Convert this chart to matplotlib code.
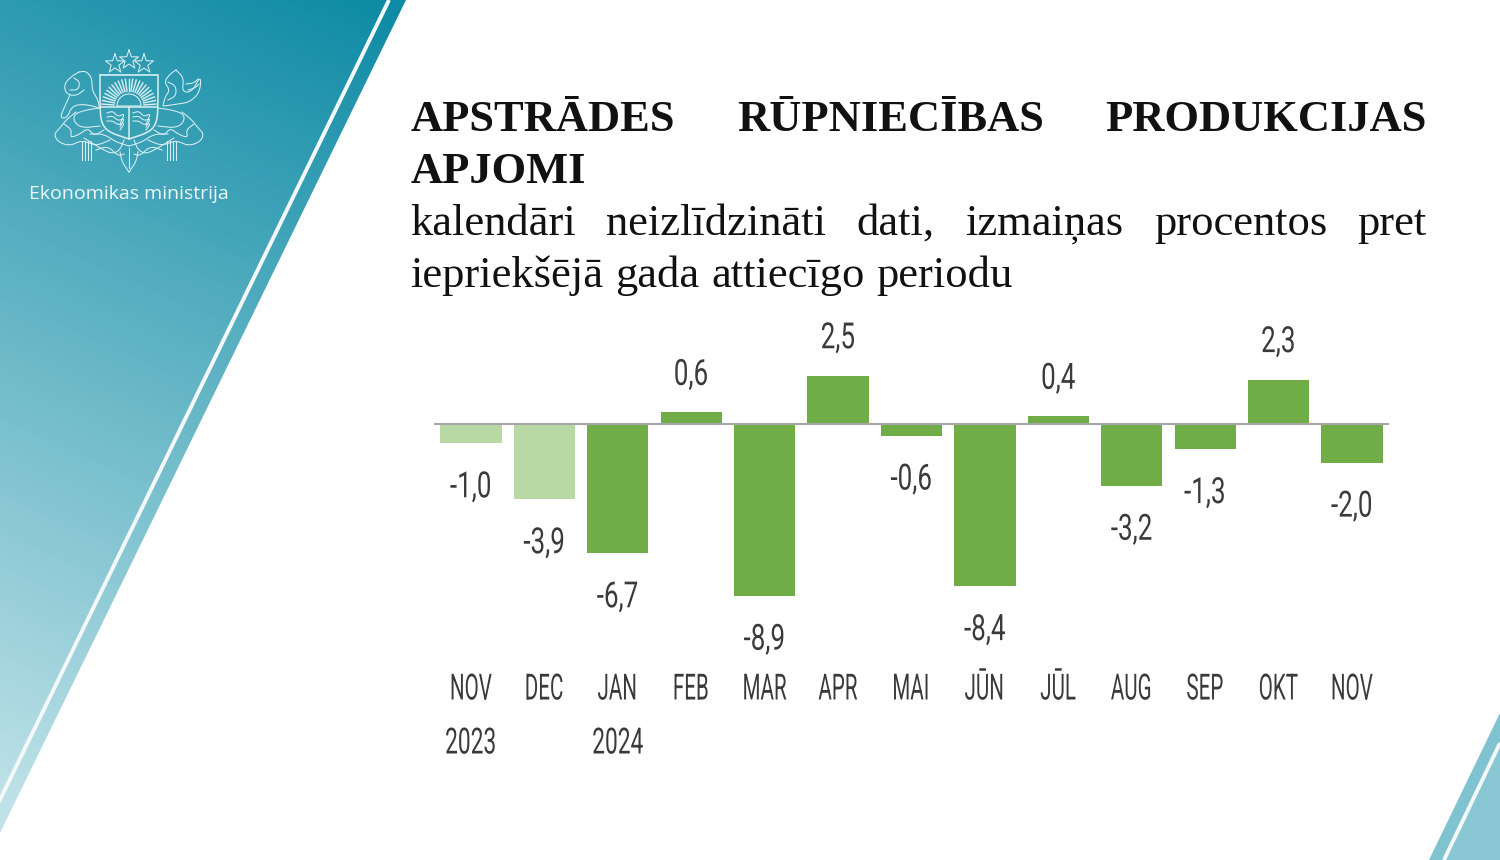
import numpy as np
import matplotlib
matplotlib.use("Agg")
import matplotlib.pyplot as plt
from matplotlib.patches import Polygon, Wedge
from matplotlib.colors import LinearSegmentedColormap
from matplotlib.patheffects import AbstractPathEffect
from matplotlib.transforms import Affine2D

months = ["NOV", "DEC", "JAN", "FEB", "MAR", "APR", "MAI", "JŪN", "JŪL", "AUG", "SEP", "OKT", "NOV"]
years = ["2023", "", "2024", "", "", "", "", "", "", "", "", "", ""]
values = [-1.0, -3.9, -6.7, 0.6, -8.9, 2.5, -0.6, -8.4, 0.4, -3.2, -1.3, 2.3, -2.0]
value_labels = ["-1,0", "-3,9", "-6,7", "0,6", "-8,9", "2,5", "-0,6", "-8,4", "0,4", "-3,2", "-1,3", "2,3", "-2,0"]
bar_colors = ["#b8d8a4", "#b8d8a4"] + ["#70ad47"] * 11

title_lines = [["APSTRĀDES", "RŪPNIECĪBAS", "PRODUKCIJAS"], ["APJOMI"]]
sub_lines = [["kalendāri", "neizlīdzināti", "dati,", "izmaiņas", "procentos", "pret"],
             ["iepriekšējā", "gada", "attiecīgo", "periodu"]]
ministry = "Ekonomikas ministrija"

W, H = 1500, 860
NARROW = ["Roboto", "DejaVu Sans"]
SERIF = ["Liberation Serif", "DejaVu Serif"]
TEXT = "#3a3a3a"


class Squeeze(AbstractPathEffect):
    """Draws a text narrower around its middle, no condensed font is installed"""

    def __init__(self, sx):
        super().__init__()
        self.sx = sx

    def draw_path(self, renderer, gc, tpath, affine, rgbFace=None):
        xs = affine.transform(tpath.vertices)[:, 0]
        cx = (xs.min() + xs.max()) / 2
        squeezed = affine + Affine2D().translate(-cx, 0).scale(self.sx, 1).translate(cx, 0)
        renderer.draw_path(gc, tpath, squeezed, rgbFace)


def justified(ax, words, y, x0, x1, fill, **kw):
    """Places the words of one line, spread out to x1 if fill is set"""
    items = [ax.text(x0, y, w, va="baseline", ha="left", color="#111111", **kw) for w in words]
    r = ax.figure.canvas.get_renderer()
    inv = ax.transData.inverted()
    widths = []
    for t in items:
        bb = t.get_window_extent(r)
        widths.append(inv.transform((bb.x1, 0))[0] - inv.transform((bb.x0, 0))[0])
    space = (x1 - x0 - sum(widths)) / (len(words) - 1) if fill else 12
    x = x0
    for t, w in zip(items, widths):
        t.set_x(x)
        x += w + space


def gradient_polygon(ax, pts):
    cmap = LinearSegmentedColormap.from_list("teal", ["#0e8ba5", "#bfe2e8"])
    yy, xx = np.mgrid[0:H, 0:W]
    t = np.clip((yy + 0.45 * (380 - xx)) / 971, 0, 1)
    im = ax.imshow(t, cmap=cmap, vmin=0, vmax=1, extent=(0, W, H, 0), aspect="auto", zorder=0)
    patch = Polygon(pts, closed=True, transform=ax.transData, fc="none", ec="none")
    ax.add_patch(patch)
    im.set_clip_path(patch)


def smooth(pts, n=3):
    """Chaikin corner cutting, keeps the hand placed outlines from looking angular"""
    p = np.asarray(pts, dtype=float)
    for _ in range(n):
        q = 0.75 * p[:-1] + 0.25 * p[1:]
        r = 0.25 * p[:-1] + 0.75 * p[1:]
        p = np.vstack([p[:1], np.column_stack([q, r]).reshape(-1, 2), p[-1:]])
    return p


def emblem(ax):
    """Rough line drawing of the coat of arms"""
    c = "#d9eff3"
    lw = 0.75

    def curve(pts, both=True, width=lw):
        p = smooth(pts)
        ax.plot(p[:, 0], p[:, 1], color=c, lw=width)
        if both:
            # mirrored around the middle of the shield
            ax.plot(258 - p[:, 0], p[:, 1], color=c, lw=width)

    for cx, cy in [(115, 64), (129, 60), (144, 64)]:
        a = np.deg2rad(-90 + 36 * np.arange(11))
        r = np.where(np.arange(11) % 2 == 0, 10, 4)
        ax.plot(cx + r * np.cos(a), cy + r * np.sin(a), color=c, lw=lw)
    # shield
    ax.plot([100, 157], [75, 75], color=c, lw=1.2)
    curve([(100, 75), (100, 105), (101, 122), (108, 132), (129, 139)], width=1.1)
    ax.plot([100, 157], [107, 107], color=c, lw=1.1)
    ax.plot([129, 129], [107, 139], color=c, lw=1.1)
    ax.add_patch(Wedge((129, 106), 12, 180, 360, fc="none", ec=c, lw=lw))
    for a in np.deg2rad(np.linspace(184, 356, 23)):
        ax.plot([129 + 15 * np.cos(a), 129 + 27 * np.cos(a)],
                [106 + 15 * np.sin(a), 106 + 27 * np.sin(a)], color=c, lw=1.0)
    # lions in the lower fields of the shield
    for cx in (116, 142):
        for k in range(3):
            curve([(cx - 9, 113 + 4 * k), (cx - 3, 111 + 5 * k), (cx + 2, 117 + 4 * k), (cx + 9, 113 + 5 * k),
                   (cx + 4, 124 + 3 * k)], both=False)
    # lion on the left
    curve([(79, 72), (86, 71), (92, 78), (92, 90), (98, 100), (99, 106)], both=False)
    curve([(79, 72), (72, 76), (64, 84), (66, 94), (76, 96), (84, 90)], both=False)
    curve([(74, 78), (80, 82), (78, 90), (70, 90)], both=False)
    curve([(70, 95), (64, 108), (60, 118), (67, 118), (72, 106), (84, 104), (100, 108)], both=False)
    # griffin on the right
    curve([(176, 70), (170, 74), (164, 82), (170, 90), (165, 97), (163, 106)], both=False)
    curve([(176, 70), (184, 78), (182, 92), (192, 92), (201, 75), (200, 92), (190, 102), (178, 104), (164, 106)],
          both=False)
    curve([(186, 84), (194, 83), (198, 79)], both=False)
    curve([(188, 90), (195, 88), (199, 84)], both=False)
    curve([(168, 82), (176, 86), (176, 96), (168, 100)], both=False)
    # lower bodies, foliage and ribbon
    curve([(100, 108), (86, 110), (74, 114), (74, 122), (82, 128), (100, 126)])
    curve([(76, 112), (66, 120), (60, 128), (54, 134), (58, 142), (70, 146), (82, 140), (96, 146), (110, 140)])
    curve([(64, 124), (72, 130), (70, 138), (80, 134), (88, 128), (94, 136), (104, 130)])
    curve([(84, 138), (100, 148), (112, 154), (120, 150), (124, 140)])
    curve([(90, 134), (104, 134), (116, 142), (129, 146)])
    curve([(96, 150), (108, 146), (118, 156), (124, 154)])
    curve([(120, 152), (122, 162), (129, 172)])
    ax.plot([129, 129], [148, 168], color=c, lw=lw)
    for x in (82, 85, 88, 91):
        ax.plot([x, x], [141, 160], color=c, lw=lw)
        ax.plot([258 - x, 258 - x], [141, 160], color=c, lw=lw)


fig = plt.figure(figsize=(15, 8.6), dpi=100)
bg = fig.add_axes([0, 0, 1, 1])
bg.set_xlim(0, W)
bg.set_ylim(H, 0)
bg.axis("off")

gradient_polygon(bg, [(0, 0), (406, 0), (0, 833)])
bg.plot([389, -5], [0, 810], color="#f4f8f9", lw=2.8, solid_capstyle="butt")

# corner at the lower right
bg.add_patch(Polygon([(1500, 713), (1500, 860), (1429, 860)], fc="#7fc2d0", ec="none"))
bg.add_patch(Polygon([(1500, 745), (1500, 860), (1447, 860)], fc="#8ac7d4", ec="none"))
bg.plot([1500, 1444], [743, 860], color="#f4f8f9", lw=2.8, solid_capstyle="butt")

emblem(bg)
bg.text(129, 194, ministry, color="#eef8fa", fontsize=14, family=["Open Sans", "DejaVu Sans"],
        ha="center", va="center")

fig.canvas.draw()
justified(bg, title_lines[0], 131, 411, 1427, True, family=SERIF, fontsize=32, fontweight="bold")
justified(bg, title_lines[1], 183, 411, 1427, False, family=SERIF, fontsize=32, fontweight="bold")
justified(bg, sub_lines[0], 235, 410, 1427, True, family=SERIF, fontsize=32)
justified(bg, sub_lines[1], 287, 410, 1427, False, family=SERIF, fontsize=32)

# chart axes: zero line at y=424, 19.3 px per unit, 73.4 px per bar
top, bottom, left, right = 320, 640, 434.3, 1388.7
ax = fig.add_axes([left / W, 1 - bottom / H, (right - left) / W, (bottom - top) / H])
ax.patch.set_alpha(0)
ax.set_xlim(-0.5, 12.5)
ax.set_ylim(-(bottom - 424) / 19.3, (424 - top) / 19.3)
x = np.arange(len(values))
ax.bar(x, values, width=0.835, color=bar_colors, zorder=2)
ax.axhline(0, color="#a6a6a6", lw=1.5, zorder=3)
for s in ax.spines.values():
    s.set_visible(False)
ax.set_yticks([])
ax.set_xticks([])
for xi, v, lab in zip(x, values, value_labels):
    off = 37.5 if v > 0 else -44
    ax.annotate(lab, (xi, v), xytext=(0, off * 0.72), textcoords="offset points", ha="center", va="center",
                family=NARROW, fontsize=26, color=TEXT, annotation_clip=False,
                path_effects=[Squeeze(0.72)])
for xi, m, yr in zip(x, months, years):
    ax.annotate(m, (xi, 0), xycoords=("data", "axes fraction"), xytext=(0, -(689.5 - bottom) * 0.72),
                textcoords="offset points", ha="center", va="center", family=NARROW, fontsize=26,
                color=TEXT, annotation_clip=False, path_effects=[Squeeze(0.57)])
    if yr:
        ax.annotate(yr, (xi, 0), xycoords=("data", "axes fraction"), xytext=(0, -(743.5 - bottom) * 0.72),
                    textcoords="offset points", ha="center", va="center", family=NARROW, fontsize=26,
                    color=TEXT, annotation_clip=False, path_effects=[Squeeze(0.63)])

fig.savefig("out.png", dpi=100)
